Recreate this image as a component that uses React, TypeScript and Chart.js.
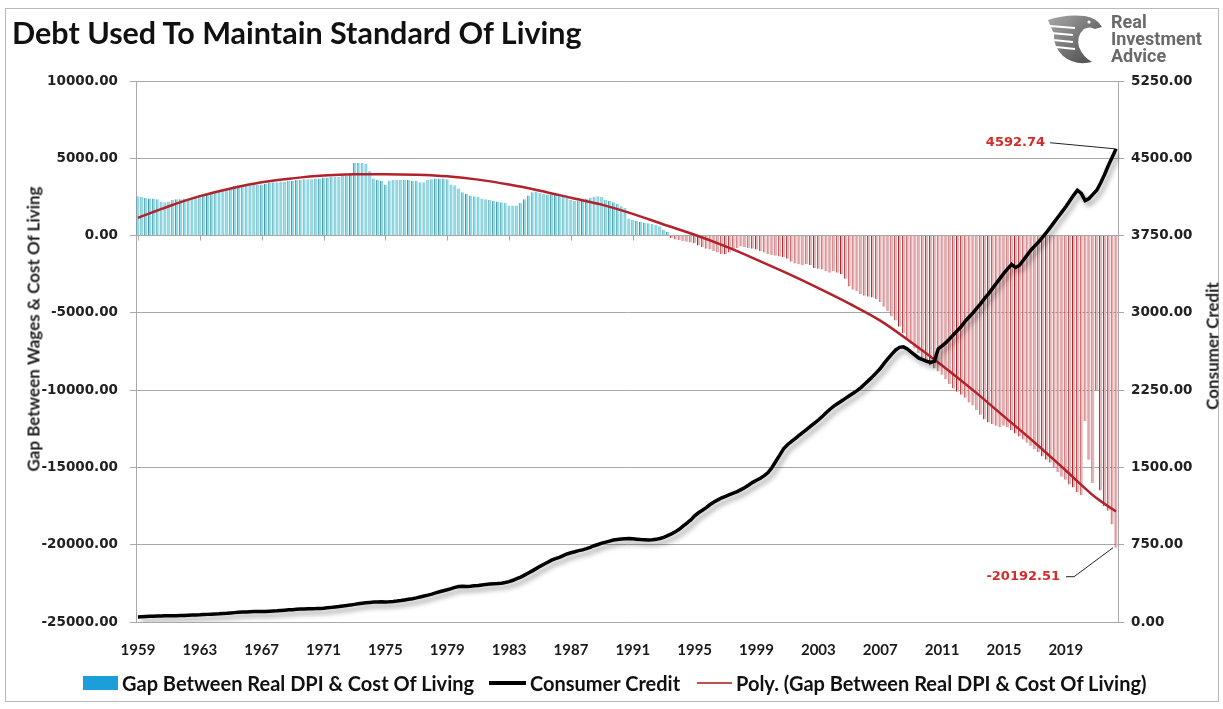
import React, { useEffect, useRef } from 'react';
import { Chart, registerables } from 'chart.js';

Chart.register(...registerables);

const START_YEAR = 1959;

// Tick labels shown on the category axis (every 4 years)
const X_TICK_YEARS = ['1959', '1963', '1967', '1971', '1975', '1979', '1983', '1987', '1991', '1995', '1999', '2003', '2007', '2011', '2015', '2019'];
const GAP_AXIS_TICKS = [-25000, -20000, -15000, -10000, -5000, 0, 5000, 10000];
const CREDIT_AXIS_TICKS = [0, 750, 1500, 2250, 3000, 3750, 4500, 5250];

// Gap Between Real DPI & Cost Of Living (quarterly, 1959Q1 .. 2022Q2)
const GAP = [
  2550, 2500, 2450, 2400,
  2400, 2350, 2200, 2150,
  2200, 2300, 2350, 2350,
  2400, 2400, 2450, 2500,
  2550, 2600, 2650, 2700,
  2750, 2850, 2950, 3050,
  3100, 3200, 3250, 3200,
  3250, 3250, 3300, 3300,
  3300, 3350, 3400, 3450,
  3450, 3500, 3500, 3550,
  3550, 3600, 3600, 3650,
  3650, 3650, 3700, 3700,
  3750, 3750, 3800, 3800,
  3800, 3850, 3850, 4000,
  4700, 4700, 4700, 4650,
  4200, 3700, 3600, 3550,
  3300, 3550, 3600, 3600,
  3600, 3600, 3600, 3550,
  3550, 3450, 3450, 3600,
  3650, 3700, 3700, 3700,
  3650, 3300, 3250, 3050,
  2800, 2700, 2600, 2550,
  2500, 2400, 2350, 2300,
  2250, 2200, 2150, 2100,
  1950, 1950, 1950, 2100,
  2350, 2600, 2800, 2850,
  2750, 2700, 2650, 2650,
  2650, 2700, 2600, 2500,
  2300, 2250, 2250, 2300,
  2400, 2450, 2500, 2550,
  2500, 2300, 2250, 2150,
  2050, 1900, 1800, 1100,
  1000, 950, 900, 850,
  800, 750, 700, 600,
  400, 250, -150, -250,
  -300, -350, -400, -450,
  -500, -650, -750, -850,
  -900, -1000, -1100, -1200,
  -1200, -1100, -900, -800,
  -700, -750, -800, -850,
  -900, -1000, -1100, -1200,
  -1250, -1300, -1350, -1400,
  -1500, -1700, -1800, -1850,
  -1900, -1850, -1900, -2100,
  -2150, -2200, -2300, -2400,
  -2300, -2400, -2500, -2800,
  -3300, -3500, -3600, -3800,
  -3900, -3950, -4000, -4100,
  -4300, -4600, -4900, -5200,
  -5500, -5900, -6300, -6700,
  -7000, -7300, -7600, -7900,
  -8200, -8400, -8600, -8800,
  -9000, -9300, -9600, -9900,
  -10100, -10300, -10500, -10800,
  -11000, -11300, -11600, -11900,
  -12100, -12200, -12300, -12400,
  -12300, -12400, -12600, -12800,
  -13000, -13200, -13400, -13600,
  -13800, -14000, -14300, -14500,
  -14700, -15000, -15300, -15600,
  -15800, -16100, -16300, -16600,
  -16800, -12000, -14500, -16000,
  -10000, -16500, -17500, -17800,
  -18700, -20192.51,
];

// Consumer Credit (quarterly, 1959Q1 .. 2022Q2)
const CREDIT = [
  49, 51, 53, 55,
  56, 58, 59, 60,
  60, 60, 61, 62,
  63, 65, 67, 69,
  70, 72, 74, 76,
  78, 80, 83, 85,
  88, 91, 94, 96,
  98, 100, 101, 102,
  102, 103, 105, 107,
  109, 112, 115, 118,
  120, 123, 125, 127,
  128, 129, 130, 132,
  134, 138, 142, 146,
  150, 155, 160, 166,
  171, 177, 182, 187,
  190, 193, 195, 196,
  195, 196, 199, 203,
  208, 214, 220, 226,
  234, 243, 252, 261,
  271, 282, 293, 303,
  313, 324, 336, 345,
  347, 344, 346, 352,
  355, 360, 365, 368,
  370, 373, 377, 383,
  392, 405, 420, 436,
  455, 475, 496, 518,
  540, 560, 580, 600,
  615, 628, 645, 660,
  672, 682, 693, 700,
  712, 725, 740, 752,
  765, 775, 785, 795,
  800, 805, 808, 810,
  808, 804, 800, 798,
  796, 798, 802, 810,
  822, 838, 855, 875,
  900, 930, 960, 990,
  1030, 1060, 1085, 1110,
  1140, 1165, 1185, 1205,
  1220, 1235, 1250, 1265,
  1285, 1305, 1330, 1355,
  1375, 1395, 1420, 1450,
  1500, 1560, 1620, 1680,
  1720, 1750, 1780, 1810,
  1840, 1870, 1900, 1930,
  1960, 1995, 2030, 2065,
  2095, 2120, 2145, 2170,
  2195, 2220, 2245, 2275,
  2310, 2345, 2380, 2420,
  2460, 2510, 2555, 2600,
  2640, 2665, 2670, 2650,
  2620, 2590, 2560, 2545,
  2530, 2520, 2530, 2650,
  2680, 2710, 2750, 2790,
  2830, 2870, 2920, 2960,
  3000, 3045, 3090, 3140,
  3185, 3235, 3285, 3335,
  3385, 3430, 3470, 3440,
  3460, 3510, 3560, 3610,
  3650, 3690, 3735, 3780,
  3830, 3880, 3930, 3980,
  4030, 4085, 4140, 4190,
  4160, 4090, 4110, 4150,
  4190, 4260, 4340, 4430,
  4510, 4592.74,
];

// Poly. trendline, read at anchor dates (fractional years)
const TREND_YEARS = [1959, 1961, 1963, 1965, 1967, 1969, 1971, 1973, 1975, 1977, 1979, 1981, 1983, 1985, 1987, 1989, 1991, 1993, 1995, 1997, 1999, 2001, 2003, 2005, 2007, 2009, 2011, 2013, 2015, 2017, 2019, 2021, 2022.25];
const TREND_VALUES = [1150, 1900, 2550, 3050, 3450, 3700, 3880, 3960, 3970, 3930, 3830, 3620, 3300, 2900, 2450, 2000, 1400, 720, 50, -700, -1550, -2450, -3400, -4400, -5500, -6900, -8400, -10000, -11700, -13400, -15200, -17000, -17850];

const SERIES_GAP = 'Gap Between Real DPI & Cost Of Living';
const SERIES_CREDIT = 'Consumer Credit';
const SERIES_TREND = 'Poly. (Gap Between Real DPI & Cost Of Living)';

const W = 1223;
const H = 709;
const PLOT_LEFT = 136;
const PLOT_RIGHT = 1118;
const PLOT_TOP = 81;
const PLOT_BOTTOM = 622;
const X_AXIS_H = 40;

const TICK_FONT = { family: "'DejaVu Sans', Verdana, sans-serif", size: 13.5, weight: 'bold' as const };
const GRID = '#a8a8a8';

export default function App() {
  const canvasRef = useRef<HTMLCanvasElement | null>(null);

  useEffect(() => {
    const canvas = canvasRef.current;
    if (!canvas) return;

    const labels: string[] = GAP.map((_, i) => `${START_YEAR + Math.floor(i / 4)}Q${(i % 4) + 1}`);
    const trend: (number | null)[] = GAP.map(() => null);
    TREND_YEARS.forEach((yr, k) => {
      const idx = Math.round((yr - START_YEAR) * 4);
      if (idx >= 0 && idx < trend.length) trend[idx] = TREND_VALUES[k];
    });
    const tickLabelFor = (i: number) => {
      const l = labels[i];
      if (!l || !l.endsWith('Q1')) return '';
      const yr = l.slice(0, 4);
      return X_TICK_YEARS.includes(yr) ? yr : '';
    };

    const shadowPlugin = {
      id: 'lineShadow',
      beforeDatasetDraw(chart: any, args: any) {
        if (args.index === 0) {
          const ctx = chart.ctx;
          ctx.save();
          ctx.shadowColor = 'rgba(0,0,0,0.35)';
          ctx.shadowBlur = 5;
          ctx.shadowOffsetX = 3;
          ctx.shadowOffsetY = 4;
        }
      },
      afterDatasetDraw(chart: any, args: any) {
        if (args.index === 0) chart.ctx.restore();
      },
    };

    const axisTicksPlugin = {
      id: 'zeroAxisTicks',
      beforeDatasetsDraw(chart: any) {
        const ctx = chart.ctx;
        const xs = chart.scales.x;
        const y0 = chart.scales.y.getPixelForValue(0);
        ctx.save();
        ctx.strokeStyle = GRID;
        ctx.lineWidth = 1;
        ctx.beginPath();
        labels.forEach((_, i) => {
          if (tickLabelFor(i)) {
            const x = Math.round(xs.getPixelForValue(i)) + 0.5;
            ctx.moveTo(x, y0);
            ctx.lineTo(x, y0 + 5);
          }
        });
        ctx.stroke();
        ctx.restore();
      },
    };

    const annotationPlugin = {
      id: 'endLabels',
      afterDatasetsDraw(chart: any) {
        const ctx = chart.ctx;
        const creditMeta = chart.getDatasetMeta(0);
        const gapMeta = chart.getDatasetMeta(2);
        const cp = creditMeta.data[creditMeta.data.length - 1];
        const gp = gapMeta.data[gapMeta.data.length - 1];
        ctx.save();
        ctx.font = "bold 13px 'DejaVu Sans', Verdana, sans-serif";
        ctx.textBaseline = 'middle';
        ctx.strokeStyle = '#222';
        ctx.lineWidth = 1;
        const cv = CREDIT[CREDIT.length - 1];
        ctx.beginPath();
        ctx.moveTo(cp.x - 2, cp.y);
        ctx.lineTo(cp.x - 66, cp.y - 6);
        ctx.stroke();
        ctx.fillStyle = '#d42a2a';
        ctx.textAlign = 'right';
        ctx.fillText(cv.toFixed(2), cp.x - 71, cp.y - 6);
        const gv = GAP[GAP.length - 1];
        ctx.beginPath();
        ctx.moveTo(gp.x - 3, gp.y);
        ctx.lineTo(gp.x - 42, gp.y + 29);
        ctx.lineTo(gp.x - 50, gp.y + 29);
        ctx.stroke();
        ctx.fillText(gv.toFixed(2), gp.x - 56, gp.y + 29);
        ctx.restore();
      },
    };

    const chart = new Chart(canvas, {
      type: 'bar',
      data: {
        labels,
        datasets: [
          {
            type: 'line',
            label: SERIES_CREDIT,
            data: CREDIT,
            yAxisID: 'y1',
            borderColor: '#000000',
            borderWidth: 3.5,
            pointRadius: 0,
            tension: 0,
            order: 0,
          } as any,
          {
            type: 'line',
            label: SERIES_TREND,
            data: trend,
            yAxisID: 'y',
            borderColor: '#b3222b',
            borderWidth: 2.5,
            pointRadius: 0,
            spanGaps: true,
            cubicInterpolationMode: 'monotone',
            order: 1,
          } as any,
          {
            type: 'bar',
            label: SERIES_GAP,
            data: GAP,
            yAxisID: 'y',
            backgroundColor: GAP.map((v) => (v >= 0 ? '#86dde9' : '#e9b3b5')),
            borderColor: GAP.map((v) => (v >= 0 ? '#4a93a2' : '#a3262b')),
            borderWidth: { left: 1, right: 0, top: 0, bottom: 0 },
            barPercentage: 1,
            categoryPercentage: 0.8,
            order: 2,
          } as any,
        ],
      },
      options: {
        responsive: false,
        animation: false,
        devicePixelRatio: 1,
        layout: { padding: { top: PLOT_TOP, bottom: H - PLOT_BOTTOM - X_AXIS_H, left: 0, right: 0 } },
        plugins: { legend: { display: false }, tooltip: { enabled: false }, title: { display: false } },
        scales: {
          x: {
            grid: { display: false },
            border: { display: false },
            ticks: {
              autoSkip: false,
              maxRotation: 0,
              minRotation: 0,
              padding: 11,
              color: '#1a1a1a',
              font: { family: 'Lato, sans-serif', size: 15, weight: 'bold' },
              callback: (_v: any, i: number) => tickLabelFor(i),
            },
            afterFit: (s: any) => { s.height = X_AXIS_H; },
          },
          y: {
            position: 'left',
            min: GAP_AXIS_TICKS[0],
            max: GAP_AXIS_TICKS[GAP_AXIS_TICKS.length - 1],
            ticks: {
              stepSize: GAP_AXIS_TICKS[1] - GAP_AXIS_TICKS[0],
              padding: 12,
              color: '#222',
              font: TICK_FONT,
              callback: (v: any) => Number(v).toFixed(2),
            },
            grid: { color: GRID, lineWidth: 1, tickLength: 6, tickColor: GRID },
            border: { display: true, color: GRID },
            afterFit: (s: any) => { s.width = PLOT_LEFT; },
          },
          y1: {
            position: 'right',
            min: CREDIT_AXIS_TICKS[0],
            max: CREDIT_AXIS_TICKS[CREDIT_AXIS_TICKS.length - 1],
            ticks: {
              stepSize: CREDIT_AXIS_TICKS[1] - CREDIT_AXIS_TICKS[0],
              padding: 7,
              color: '#222',
              font: TICK_FONT,
              callback: (v: any) => Number(v).toFixed(2),
            },
            grid: { drawOnChartArea: false, tickLength: 6, tickColor: GRID },
            border: { display: true, color: GRID },
            afterFit: (s: any) => { s.width = W - PLOT_RIGHT; },
          },
        },
      } as any,
      plugins: [shadowPlugin, axisTicksPlugin, annotationPlugin],
    });

    return () => chart.destroy();
  }, []);

  const legendText: React.CSSProperties = {
    position: 'absolute',
    top: 671,
    fontFamily: 'Lato, sans-serif',
    fontWeight: 'bold',
    fontSize: 20,
    lineHeight: '24px',
    color: '#111',
    whiteSpace: 'nowrap',
  };

  return (
    <div style={{ position: 'fixed', left: 0, top: 0, width: W, height: H, background: '#fff', overflow: 'hidden' }}>
      <div style={{ position: 'absolute', left: 5, top: 8, width: 1212, height: 692, border: '1.5px solid #b8b8b8' }} />
      <canvas ref={canvasRef} width={W} height={H} style={{ position: 'absolute', left: 0, top: 0, width: W, height: H }} />
      <div style={{ position: 'absolute', left: 12, top: 13, fontFamily: 'Lato, sans-serif', fontWeight: 'bold', fontSize: 30.5, lineHeight: '38px', color: '#111', whiteSpace: 'nowrap' }}>
        Debt Used To Maintain Standard Of Living
      </div>
      {/* logo */}
      <svg style={{ position: 'absolute', left: 1045, top: 12 }} width="60" height="54" viewBox="0 0 60 54">
        <defs>
          <linearGradient id="eg" x1="0" y1="0" x2="1" y2="1">
            <stop offset="0" stopColor="#a8a8a8" />
            <stop offset="1" stopColor="#444" />
          </linearGradient>
        </defs>
        <path d="M3 8 Q20 2 40 4 Q52 6 57 15 L50 17 Q45 14 39 17 Q31 24 34 35 Q38 45 47 50 Q30 54 18 44 Q8 34 9 22 Z" fill="url(#eg)" />
        <path d="M5 14 L30 16 M6 21 L28 23 M8 28 L28 30 M11 35 L30 37" stroke="#fff" strokeWidth="2" />
        <circle cx="44" cy="10" r="1.6" fill="#fff" />
      </svg>
      <div style={{ position: 'absolute', left: 1111, top: 13, fontFamily: 'Roboto, sans-serif', fontWeight: 'bold', fontSize: 18, lineHeight: '17px', color: '#6a6a6a' }}>
        <div>Real</div>
        <div>Investment</div>
        <div>Advice</div>
      </div>
      {/* axis titles */}
      <div style={{ position: 'absolute', left: 33, top: 329, transform: 'translate(-50%, -50%) rotate(-90deg)', fontFamily: 'Lato, sans-serif', fontWeight: 'bold', fontSize: 17, color: '#222', whiteSpace: 'nowrap' }}>
        Gap Between Wages &amp; Cost Of Living
      </div>
      <div style={{ position: 'absolute', left: 1212, top: 346, transform: 'translate(-50%, -50%) rotate(-90deg)', fontFamily: 'Lato, sans-serif', fontWeight: 'bold', fontSize: 17, color: '#222', whiteSpace: 'nowrap' }}>
        Consumer Credit
      </div>
      {/* legend */}
      <div style={{ position: 'absolute', left: 83, top: 676, width: 35, height: 14, background: '#1c9fd9' }} />
      <div style={{ ...legendText, left: 122 }}>{SERIES_GAP}</div>
      <div style={{ position: 'absolute', left: 489, top: 681, width: 37, height: 4, background: '#000' }} />
      <div style={{ ...legendText, left: 530 }}>{SERIES_CREDIT}</div>
      <div style={{ position: 'absolute', left: 697, top: 682, width: 35, height: 2, background: '#c0504d' }} />
      <div style={{ ...legendText, left: 736 }}>{SERIES_TREND}</div>
    </div>
  );
}
